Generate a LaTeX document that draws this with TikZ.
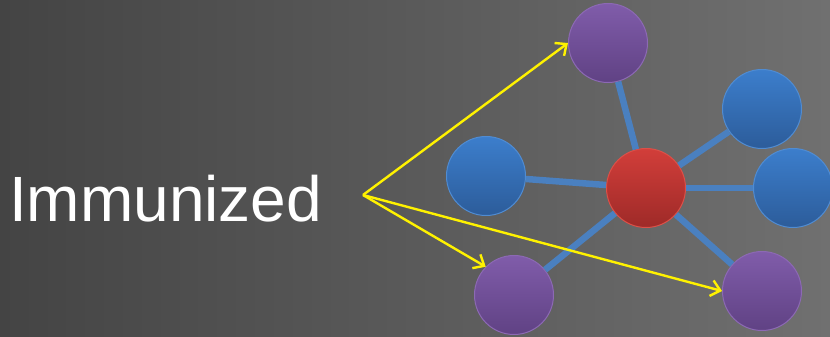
\documentclass[tikz,border=0pt]{standalone}
\usepackage{fontspec}
\setmainfont{Liberation Sans}
\usetikzlibrary{arrows.meta}
\definecolor{bgdark}{RGB}{68,68,68}
\definecolor{bgmid}{RGB}{98,98,98}
\definecolor{bglight}{RGB}{112,112,112}
\definecolor{linkblue}{RGB}{74,128,192}
\begin{document}
\begin{tikzpicture}[x=1pt,y=-1pt,
	ball/.style={circle,minimum size=79pt,inner sep=0pt,line width=1pt},
	immune/.style={ball,draw={rgb,255:red,140;green,105;blue,180},top color={rgb,255:red,128;green,92;blue,170},bottom color={rgb,255:red,96;green,66;blue,132}},
	healthy/.style={ball,draw={rgb,255:red,80;green,140;blue,210},top color={rgb,255:red,60;green,126;blue,204},bottom color={rgb,255:red,44;green,92;blue,154}},
	infected/.style={ball,draw={rgb,255:red,220;green,80;blue,72},top color={rgb,255:red,210;green,62;blue,58},bottom color={rgb,255:red,158;green,42;blue,40}},
	link/.style={linkblue,line width=6.5pt},
	pointer/.style={yellow,line width=2.4pt,-{Straight Barb[length=9pt,width=16pt]}}]
	% background
	\shade[left color=bgdark,middle color=bgmid,right color=bglight] (0,0) rectangle (830,337);
	\useasboundingbox (0,0) rectangle (830,337);
	% network
	\node[infected] (hub) at (646,188) {};
	\foreach \name/\kind/\x/\y in {top/immune/608/43,
							left/healthy/486/176,
							upright/healthy/762/109,
							right/healthy/793/188,
							botleft/immune/514/295,
							botright/immune/762/291}
		\node[\kind] (\name) at (\x,\y) {};
	\foreach \name in {top,left,upright,right,botleft,botright}
		\draw[link] (hub) -- (\name);
	% label and pointers
	\node[anchor=base west,inner sep=0pt,white,font=\fontsize{64}{70}\selectfont] (label) at (9,221) {Immunized};
	\coordinate (src) at (363,195);
	\draw[pointer] (src) -- (top.west);
	\draw[pointer] (src) -- (botleft.north west);
	\draw[pointer] (src) -- (botright.west);
\end{tikzpicture}
\end{document}
